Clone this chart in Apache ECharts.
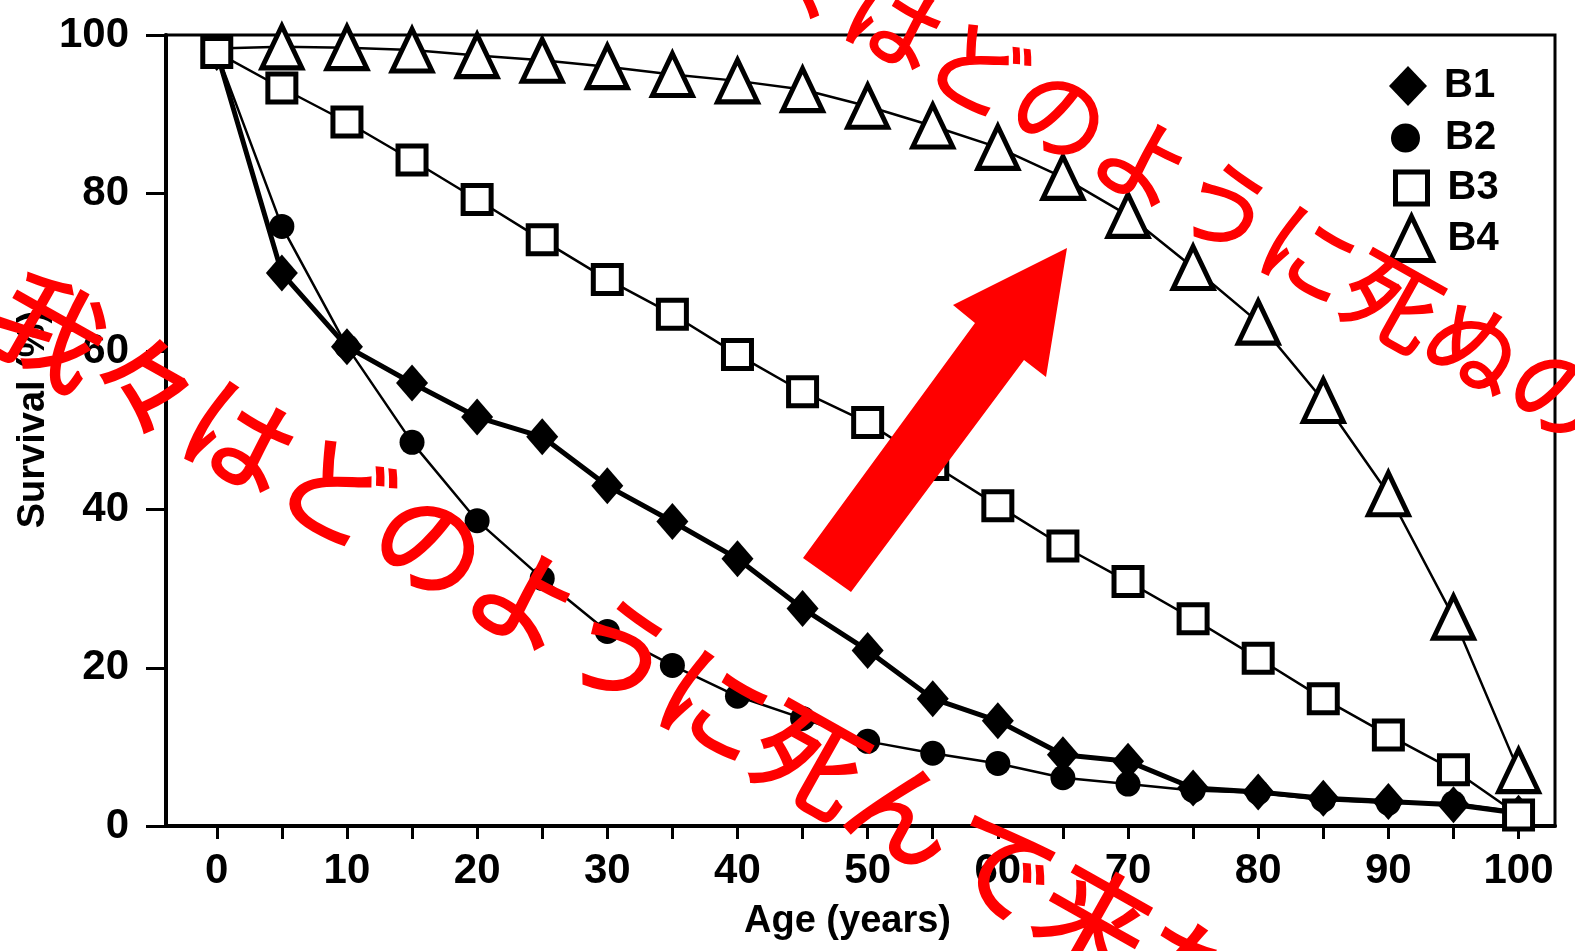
<!DOCTYPE html>
<html>
<head>
<meta charset="utf-8">
<script src="https://cdn.jsdelivr.net/npm/echarts/dist/echarts.min.js"></script>
<style>
  html, body { margin: 0; padding: 0; background: #fff; }
  #main { width: 1575px; height: 951px; }
</style>
</head>
<body>
<div id="main"></div>
<script>
// 年齢 (years)
const ages = [0, 5, 10, 15, 20, 25, 30, 35, 40, 45, 50, 55, 60, 65, 70, 75, 80, 85, 90, 95, 100]
// 生存率 (%)
const b1 = [97.8, 69.9, 60.6, 56.0, 51.7, 49.2, 43.0, 38.5, 33.8, 27.5, 22.2, 16.1, 13.3, 9.0, 8.2, 4.8, 4.3, 3.5, 3.1, 2.7, 1.6]
const b2 = [97.8, 75.8, 60.6, 48.5, 38.6, 31.3, 24.6, 20.3, 16.4, 13.6, 10.7, 9.2, 7.9, 6.1, 5.3, 4.5, 4.2, 3.3, 2.9, 2.9, 1.8]
const b3 = [97.8, 93.3, 89.0, 84.2, 79.2, 74.1, 69.1, 64.7, 59.6, 54.9, 51.0, 45.7, 40.5, 35.4, 30.9, 26.2, 21.2, 16.1, 11.5, 7.1, 1.4]
const b4 = [98.3, 98.5, 98.4, 98.1, 97.4, 96.8, 96.0, 95.0, 94.2, 93.1, 91.0, 88.5, 85.8, 82.0, 77.2, 70.6, 63.7, 53.8, 42.0, 26.4, 7.0]
const xLabels = [0, 10, 20, 30, 40, 50, 60, 70, 80, 90, 100]
const xTicks = [0, 5, 10, 15, 20, 25, 30, 35, 40, 45, 50, 55, 60, 65, 70, 75, 80, 85, 90, 95, 100]
const seriesNames = ['B1', 'B2', 'B3', 'B4']
// 赤い書き込み
const upperText = '我々はどのように死ぬのか'
const lowerText = '我々はどのように死んで来たか'

const FONT = 'Liberation Sans'
const deg = Math.PI / 180

const pairs = (vals) => ages.map((a, i) => [a, vals[i]])

const chart = echarts.init(document.getElementById('main'), null, { renderer: 'canvas' })

// 凡例は記号ごとに大きさが違うので一つずつ
const legendItem = (name, icon, w, h, left, top, pad, itemStyle) => ({
  data: [{ name: name, icon: icon, itemStyle: itemStyle }],
  orient: 'vertical',
  left: left,
  top: top,
  itemWidth: w,
  itemHeight: h,
  selectedMode: false,
  textStyle: {
    fontFamily: FONT,
    fontWeight: 'bold',
    fontSize: 40,
    color: '#000',
    padding: [0, 0, 0, pad]
  }
})

const option = {
  animation: false,
  backgroundColor: '#fff',
  textStyle: { fontFamily: FONT },
  grid: {
    left: 166,
    top: 35,
    right: 20,
    bottom: 125,
    show: true,
    borderColor: '#000',
    borderWidth: 3,
    backgroundColor: 'transparent'
  },
  legend: [
    legendItem('B1', 'diamond', 38, 40, 1384, 61, 12, { color: '#000', borderWidth: 0 }),
    legendItem('B2', 'circle', 29, 29, 1386, 113, 20, { color: '#000', borderWidth: 0 }),
    legendItem('B3', 'rect', 32, 32, 1388, 163, 15, { color: '#fff', borderColor: '#000', borderWidth: 5 }),
    legendItem('B4', 'triangle', 42, 44, 1383, 209, 10, { color: '#fff', borderColor: '#000', borderWidth: 5 })
  ],
  xAxis: {
    type: 'value',
    min: -3.9,
    max: 102.8,
    name: 'Age (years)',
    nameLocation: 'middle',
    nameGap: 77,
    nameTextStyle: { fontFamily: FONT, fontWeight: 'bold', fontSize: 38, color: '#000', padding: [0, 26, 0, 0] },
    axisLine: { show: true, onZero: false, lineStyle: { color: '#000', width: 4 } },
    axisTick: { show: true, inside: false, length: 13, customValues: xTicks, lineStyle: { color: '#000', width: 3 } },
    axisLabel: { customValues: xLabels, margin: 24, fontFamily: FONT, fontWeight: 'bold', fontSize: 42, color: '#000' },
    splitLine: { show: false }
  },
  yAxis: {
    type: 'value',
    min: 0,
    max: 100,
    interval: 20,
    name: 'Survival (%)',
    nameLocation: 'middle',
    nameGap: 113,
    nameMoveOverlap: false,
    nameTextStyle: { fontFamily: FONT, fontWeight: 'bold', fontSize: 38, color: '#000', padding: [0, 0, 0, 22] },
    axisLine: { show: true, onZero: false, lineStyle: { color: '#000', width: 4 } },
    axisTick: { show: true, inside: false, length: 20, lineStyle: { color: '#000', width: 3 } },
    axisLabel: { margin: 37, fontFamily: FONT, fontWeight: 'bold', fontSize: 42, color: '#000' },
    splitLine: { show: false }
  },
  series: [
    {
      name: seriesNames[0],
      type: 'line',
      data: pairs(b1),
      symbol: 'diamond',
      symbolSize: [32, 37],
      lineStyle: { color: '#000', width: 5 },
      itemStyle: { color: '#000' },
      emphasis: { disabled: true },
      z: 2
    },
    {
      name: seriesNames[1],
      type: 'line',
      data: pairs(b2),
      symbol: 'circle',
      symbolSize: 25,
      lineStyle: { color: '#000', width: 2.5 },
      itemStyle: { color: '#000' },
      emphasis: { disabled: true },
      z: 3
    },
    {
      name: seriesNames[3],
      type: 'line',
      data: pairs(b4).map((p, i) => i === 0 ? { value: p, symbol: 'none' } : p),
      symbol: 'triangle',
      symbolSize: [40, 42],
      lineStyle: { color: '#000', width: 2.5 },
      itemStyle: { color: '#fff', borderColor: '#000', borderWidth: 5 },
      emphasis: { disabled: true },
      z: 4
    },
    {
      name: seriesNames[2],
      type: 'line',
      data: pairs(b3),
      symbol: 'rect',
      symbolSize: 28,
      lineStyle: { color: '#000', width: 2.5 },
      itemStyle: { color: '#fff', borderColor: '#000', borderWidth: 5 },
      emphasis: { disabled: true },
      z: 5
    }
  ],
  graphic: [
    {
      // 赤い矢印
      type: 'polygon',
      z: 100,
      shape: {
        points: [[803, 558], [975, 323], [953, 305], [1067, 248], [1046, 377], [1024, 360], [851, 592]]
      },
      style: { fill: '#ff0000' }
    },
    {
      type: 'text',
      z: 101,
      x: 1185,
      y: 184,
      rotation: -29.2 * deg,
      style: {
        text: upperText,
        fontFamily: 'Noto Sans CJK JP',
        fontSize: 95,
        fill: '#ff0000',
        stroke: '#ff0000',
        lineWidth: 1.5,
        align: 'center',
        verticalAlign: 'middle'
      }
    },
    {
      type: 'text',
      z: 101,
      x: 668,
      y: 678,
      rotation: -29.4 * deg,
      style: {
        text: lowerText,
        fontFamily: 'Noto Sans CJK JP',
        fontSize: 109,
        fill: '#ff0000',
        stroke: '#ff0000',
        lineWidth: 2,
        align: 'center',
        verticalAlign: 'middle'
      }
    }
  ]
}

chart.setOption(option)
</script>
</body>
</html>
